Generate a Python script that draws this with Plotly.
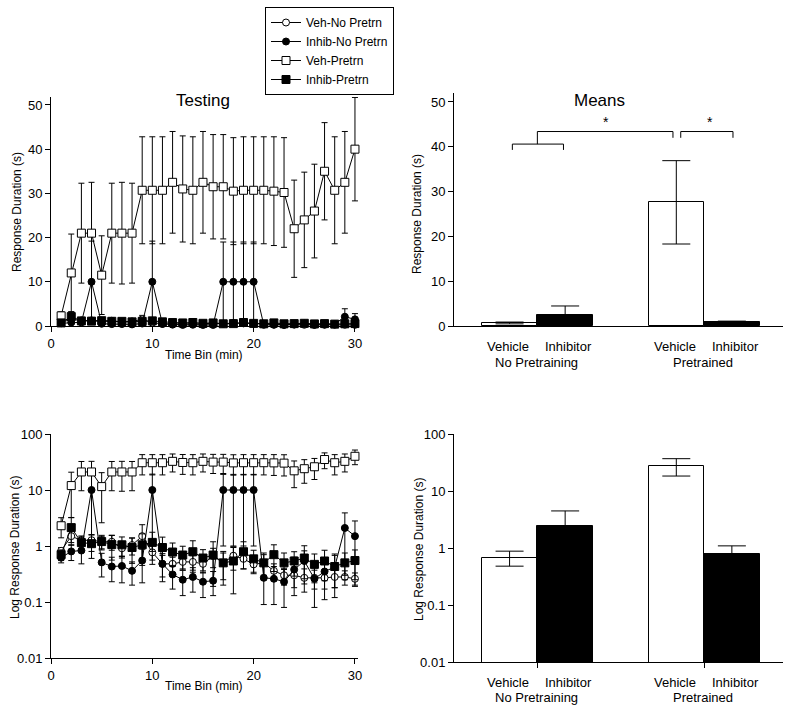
import plotly.graph_objects as go

# ---------------- data ----------------
time_bins = list(range(1, 31))

veh_no = [0.82, 1.5, 1.26, 1.27, 1.19, 1.19, 0.91, 1.04, 1.5, 0.77,
          0.48, 0.48, 0.52, 0.52, 0.48, 0.66, 0.5, 0.67, 0.59, 0.47,
          0.5, 0.36, 0.3, 0.3, 0.27, 0.27, 0.27, 0.28, 0.28, 0.26]
veh_no_err = [0.12, 0.35, 0.25, 0.3, 0.3, 0.35, 0.3, 0.35, 0.9, 0.3,
              0.2, 0.15, 0.15, 0.15, 0.15, 0.25, 0.25, 0.3, 0.2, 0.15,
              0.2, 0.12, 0.1, 0.12, 0.12, 0.1, 0.1, 0.1, 0.08, 0.07]

inhib_no = [0.62, 0.8, 0.83, 10, 0.51, 0.43, 0.44, 0.36, 0.55, 10,
            0.48, 0.31, 0.25, 0.28, 0.23, 0.24, 10, 10, 10, 10,
            0.27, 0.26, 0.23, 0.38, 0.54, 0.26, 0.35, 0.42, 2.1, 1.5]
inhib_no_err = [0.12, 0.25, 0.35, 9.2, 0.23, 0.2, 0.22, 0.16, 0.33, 9.2,
                0.25, 0.14, 0.12, 0.13, 0.11, 0.11, 9.0, 9.0, 9.0, 9.0,
                0.18, 0.17, 0.15, 0.25, 0.28, 0.18, 0.24, 0.3, 1.8, 1.3]

veh_pre = [2.3, 12, 21, 21, 11.5, 21, 21, 21, 30.7, 30.7,
           30.7, 32.5, 31, 30.7, 32.5, 31.5, 31.5, 30.5, 30.7, 30.7,
           30.7, 30.5, 30.2, 22, 24, 26, 35, 30.7, 32.5, 40]
veh_pre_err = [0.9, 8.8, 11.3, 11.5, 8.9, 11.3, 11.5, 11.3, 12.1, 12.1,
               12.1, 11.5, 12, 12.1, 11.5, 11.8, 11.8, 12.1, 12.1, 12.1,
               12.1, 12.3, 12.4, 11, 10.8, 10.6, 11, 12.1, 11.5, 11.7]

inhib_pre = [0.7, 2.13, 1.15, 1.1, 1.2, 1.06, 1.05, 0.94, 1.05, 1.16,
             0.94, 0.78, 0.69, 0.79, 0.61, 0.69, 0.5, 0.54, 0.79, 0.59,
             0.5, 0.7, 0.5, 0.54, 0.61, 0.47, 0.54, 0.43, 0.5, 0.55]
inhib_pre_err = [0.15, 1.1, 0.3, 0.5, 0.35, 0.5, 0.4, 0.45, 0.6, 0.6,
                 0.5, 0.35, 0.3, 0.45, 0.25, 0.5, 0.3, 0.4, 0.4, 0.25,
                 0.25, 0.35, 0.25, 0.25, 0.4, 0.25, 0.3, 0.25, 0.25, 0.3]

series_names = ["Veh-No Pretrn", "Inhib-No Pretrn", "Veh-Pretrn", "Inhib-Pretrn"]

bar_pos = [1, 2, 4, 5]
bar_treat = ["Vehicle", "Inhibitor", "Vehicle", "Inhibitor"]
group_names = ["No Pretraining", "Pretrained"]
mean_vals = [0.68, 2.47, 27.6, 0.79]
mean_err = [0.2, 2.0, 9.3, 0.3]

lin_ticks = [0, 10, 20, 30, 40, 50]
log_ticks = [0.01, 0.1, 1, 10, 100]
log_ticktext = ["0.01", "0.1", "1", "10", "100"]
time_ticks = [0, 10, 20, 30]

# ---------------- layout helpers ----------------
W, H = 795, 712
FONT = "Liberation Sans, Arial, sans-serif"


def px(x):
    return x / W


def py(y):
    return 1 - y / H


fig = go.Figure()

styles = [
    dict(symbol="circle", color="white", size=7),
    dict(symbol="circle", color="black", size=7),
    dict(symbol="square", color="white", size=8),
    dict(symbol="square", color="black", size=8),
]
values = [veh_no, inhib_no, veh_pre, inhib_pre]
errors = [veh_no_err, inhib_no_err, veh_pre_err, inhib_pre_err]

for axis_i, (xa, ya) in enumerate([("x", "y"), ("x2", "y2")]):
    for name, st, vals, errs in zip(series_names, styles, values, errors):
        fig.add_trace(go.Scatter(
            x=time_bins, y=vals, name=name, mode="lines+markers",
            xaxis=xa, yaxis=ya, showlegend=(axis_i == 0), cliponaxis=False,
            line=dict(color="black", width=1),
            marker=dict(symbol=st["symbol"], color=st["color"], size=st["size"],
                        line=dict(color="black", width=1)),
            error_y=dict(type="data", array=errs, visible=True, color="black",
                         thickness=1, width=3),
        ))

bar_colors = ["white", "black", "white", "black"]
for xa, ya in [("x3", "y3"), ("x4", "y4")]:
    fig.add_trace(go.Bar(
        x=bar_pos, y=mean_vals, width=1.0, xaxis=xa, yaxis=ya, showlegend=False,
        marker=dict(color=bar_colors, line=dict(color="black", width=1)),
        error_y=dict(type="data", array=mean_err, visible=True, color="black",
                     thickness=1, width=14),
    ))

axis_common = dict(showline=True, linecolor="black", linewidth=1, ticks="outside",
                   ticklen=5, tickcolor="black", showgrid=False, zeroline=False,
                   automargin=False,
                   tickfont=dict(family=FONT, size=13, color="black"))

fig.update_layout(
    template="none",
    width=W, height=H, margin=dict(l=0, r=0, t=0, b=0, autoexpand=False),
    paper_bgcolor="white", plot_bgcolor="white",
    font=dict(family=FONT, color="black"),
    xaxis=dict(domain=[px(51), px(358)], range=[0, 30.3], anchor="y",
               tickvals=time_ticks, **axis_common),
    yaxis=dict(domain=[py(326), py(97)], range=[0, 51.8], anchor="x",
               tickvals=lin_ticks, **axis_common),
    xaxis2=dict(domain=[px(51), px(358)], range=[0, 30.3], anchor="y2",
                tickvals=time_ticks, **axis_common),
    yaxis2=dict(domain=[py(658), py(434)], type="log", range=[-2, 2], anchor="x2",
                tickvals=log_ticks, ticktext=log_ticktext, **axis_common),
    xaxis3=dict(domain=[px(454), px(783)], range=[0, 5.92], anchor="y3",
                showticklabels=False, **{**axis_common, "ticks": ""}),
    yaxis3=dict(domain=[py(326), py(93)], range=[0, 52], anchor="x3",
                tickvals=lin_ticks, **axis_common),
    xaxis4=dict(domain=[px(454), px(783)], range=[0, 5.92], anchor="y4",
                tickvals=[1.5, 4.5], showticklabels=False, **axis_common),
    yaxis4=dict(domain=[py(662), py(434)], type="log", range=[-2, 2], anchor="x4",
                tickvals=log_ticks, ticktext=log_ticktext, **axis_common),
    legend=dict(x=px(265), y=py(7), xanchor="left", yanchor="top",
                bordercolor="black", borderwidth=1, bgcolor="white",
                font=dict(family=FONT, size=12, color="black"),
                itemwidth=30, tracegroupgap=0),
    bargap=0,
)

ann = []
# panel titles
for txt, x in [("Testing", 203), ("Means", 599)]:
    ann.append(dict(text=txt, x=px(x), y=py(100), xref="paper", yref="paper",
                    xanchor="center", yanchor="middle",
                    showarrow=False, font=dict(size=17, family=FONT)))
# axis titles
for txt, x, y in [("Response Duration (s)", 17, 212), ("Log Response Duration (s)", 15, 548),
                  ("Response Duration (s)", 417, 214), ("Log Response Duration (s)", 419, 550)]:
    ann.append(dict(text=txt, x=px(x), y=py(y), xref="paper", yref="paper", textangle=-90,
                    xanchor="center", yanchor="middle",
                    showarrow=False, font=dict(size=12, family=FONT)))
for y in [355, 686]:
    ann.append(dict(text="Time Bin (min)", x=px(204), y=py(y), xref="paper", yref="paper",
                    xanchor="center", yanchor="middle",
                    showarrow=False, font=dict(size=12, family=FONT)))
# bar category labels
for xa, y1, y2 in [("x3", 346, 362), ("x4", 682, 697)]:
    for pos, lab in zip(bar_pos, bar_treat):
        shift = 0.06 if lab == "Inhibitor" else -0.03
        ann.append(dict(text=lab, x=pos + shift, y=py(y1), xref=xa, yref="paper",
                        xanchor="center", yanchor="middle",
                        showarrow=False, font=dict(size=13, family=FONT)))
    for gx, g in zip([1.48, 4.48], group_names):
        ann.append(dict(text=g, x=gx, y=py(y2), xref=xa, yref="paper",
                        xanchor="center", yanchor="middle",
                        showarrow=False, font=dict(size=13, family=FONT)))
# significance stars
for sx in [2.73, 4.6]:
    ann.append(dict(text="*", x=sx, y=43.4, xref="x3", yref="y3",
                    xanchor="center", yanchor="bottom",
                    showarrow=False, font=dict(size=14, family=FONT)))
fig.update_layout(annotations=ann)

# significance brackets
line_style = dict(color="black", width=1)
fig.add_shape(type="path", xref="x3", yref="y3", line=line_style,
              path="M 1.05 39.3 L 1.05 40.6 L 1.97 40.6 L 1.97 39.3")
fig.add_shape(type="path", xref="x3", yref="y3", line=line_style,
              path="M 1.5 40.6 L 1.5 43.4 L 3.94 43.4 L 3.94 42.0")
fig.add_shape(type="path", xref="x3", yref="y3", line=line_style,
              path="M 4.08 42.0 L 4.08 43.4 L 5.02 43.4 L 5.02 42.0")

fig.write_html("out.html", config={"displayModeBar": False},
               post_script="document.body.style.margin='0px';")
